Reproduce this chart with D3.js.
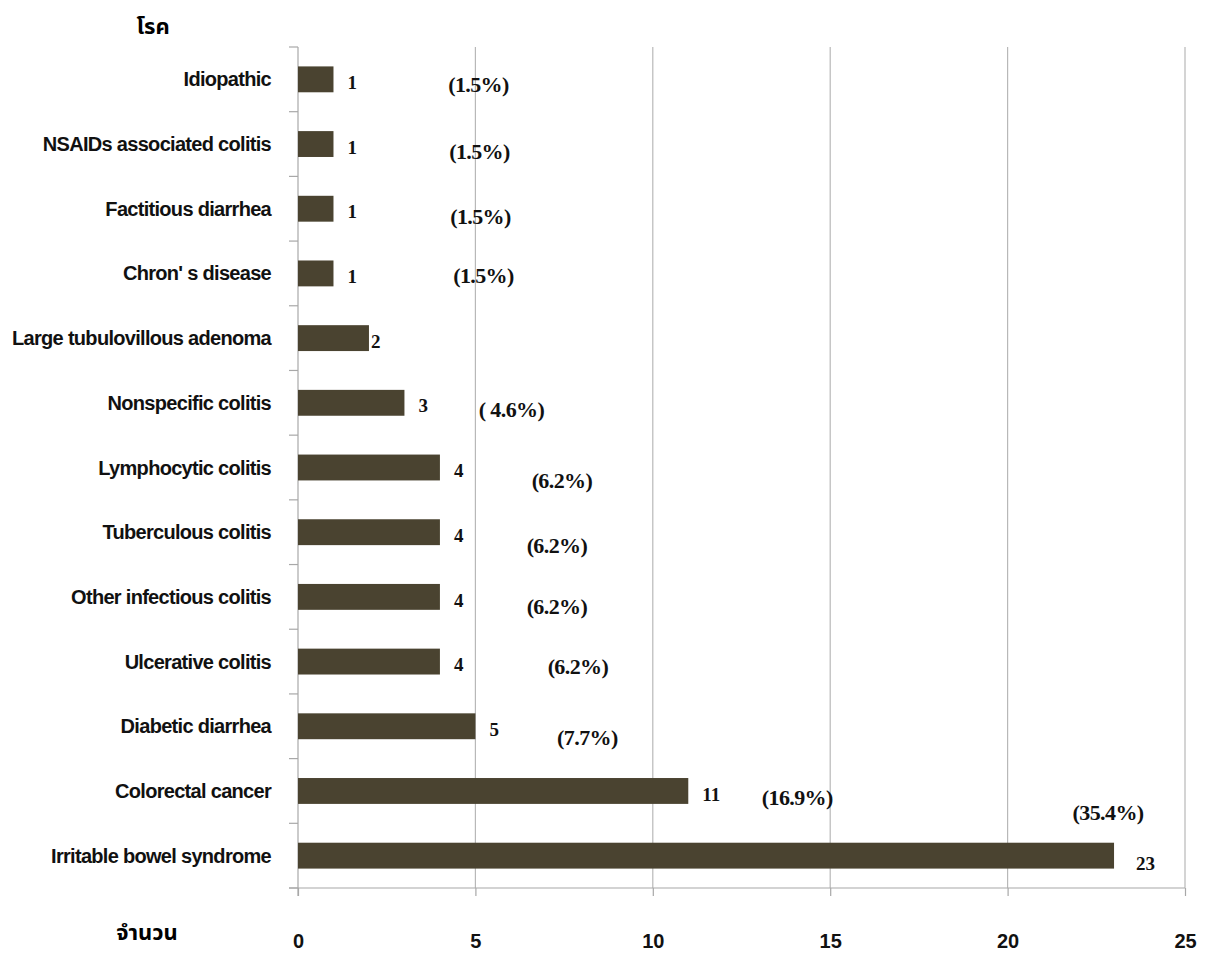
<!DOCTYPE html>
<html>
<head>
<meta charset="utf-8">
<script src="https://cdn.jsdelivr.net/npm/d3@7"></script>
<style>
  body { margin: 0; background: #fff; }
  .cat { font-family: "Liberation Sans", Arial, sans-serif; font-weight: bold; font-size: 20px; letter-spacing: -0.7px; }
  .val { font-family: "Liberation Serif", "Times New Roman", serif; font-weight: bold; font-size: 19px; }
  .pct { font-family: "Liberation Serif", "Times New Roman", serif; font-weight: bold; font-size: 22px; letter-spacing: -0.6px; }
  .thai { font-family: "Noto Sans Thai", "Noto Sans", sans-serif; font-weight: bold; font-size: 22px; }
  .x-axis text { font-family: "Liberation Sans", Arial, sans-serif; font-weight: bold; font-size: 20px; }
</style>
</head>
<body>
<script>
// categories, top to bottom
var diseases = ["Idiopathic", "NSAIDs associated colitis", "Factitious diarrhea", "Chron' s  disease",
  "Large tubulovillous adenoma", "Nonspecific colitis", "Lymphocytic colitis", "Tuberculous colitis",
  "Other infectious colitis", "Ulcerative colitis", "Diabetic diarrhea", "Colorectal cancer",
  "Irritable bowel syndrome"];
var counts = [1, 1, 1, 1, 2, 3, 4, 4, 4, 4, 5, 11, 23];
var percents = ["(1.5%)", "(1.5%)", "(1.5%)", "(1.5%)", "", "( 4.6%)", "(6.2%)", "(6.2%)",
  "(6.2%)", "(6.2%)", "(7.7%)", "(16.9%)", "(35.4%)"];
var xTicks = [0, 5, 10, 15, 20, 25];

// hand placed annotation nudges (pixels), as in the original slide
var valDx = [14, 14, 14, 14, 2, 14, 14, 14, 14, 14, 14, 14, 22];
var pctDx = [145, 146, 147, 150, 0, 107, 122, 117, 117, 138, 112, 109, -6];
var pctDy = [5, 7, 8, 2, 0, 6, 13, 13, 9, 5, 11, 6, -43];

var W = 1213, H = 953;
var plotLeft = 298, plotRight = 1185, plotTop = 47, plotBottom = 888;

var svg = d3.select("body").append("svg")
  .attr("width", W)
  .attr("height", H);

var x = d3.scaleLinear()
  .domain([0, 25])
  .range([plotLeft, plotRight]);

var y = d3.scaleBand()
  .domain(diseases)
  .range([plotTop, plotBottom])
  .paddingInner(0.6)
  .paddingOuter(0.3);

// gridlines
svg.append("g").selectAll("line")
  .data(xTicks.slice(1))
  .enter().append("line")
  .attr("x1", function(d) { return x(d); })
  .attr("x2", function(d) { return x(d); })
  .attr("y1", plotTop)
  .attr("y2", plotBottom)
  .attr("stroke", "#b8b8b8")
  .attr("stroke-width", 1.2);

// x axis
var xAxis = d3.axisBottom(x)
  .tickValues(xTicks)
  .tickSizeInner(8)
  .tickSizeOuter(0)
  .tickPadding(38);

var gx = svg.append("g")
  .attr("class", "axis x-axis")
  .attr("transform", "translate(0," + plotBottom + ")")
  .call(xAxis);
gx.select(".domain").attr("stroke", "#a8a8a8").attr("stroke-width", 1.2)
  .attr("d", "M" + (plotLeft - 9) + ",0H" + plotRight);
gx.selectAll(".tick line").attr("stroke", "#a8a8a8").attr("stroke-width", 1.2);
gx.selectAll(".tick text").attr("fill", "#111");

// y axis line and tick marks at band edges
svg.append("line")
  .attr("x1", plotLeft).attr("x2", plotLeft)
  .attr("y1", plotTop).attr("y2", plotBottom + 8)
  .attr("stroke", "#a8a8a8").attr("stroke-width", 1.2);

var edges = d3.range(diseases.length + 1).map(function(i) { return plotTop + i * y.step(); });
svg.append("g").selectAll("line")
  .data(edges)
  .enter().append("line")
  .attr("x1", plotLeft - 9).attr("x2", plotLeft)
  .attr("y1", function(d) { return d; })
  .attr("y2", function(d) { return d; })
  .attr("stroke", "#a8a8a8").attr("stroke-width", 1.2);

// category labels
svg.append("g").selectAll("text")
  .data(diseases)
  .enter().append("text")
  .attr("class", "cat")
  .attr("x", 271)
  .attr("y", function(d) { return y(d) + y.bandwidth() / 2; })
  .attr("dy", "0.35em")
  .attr("text-anchor", "end")
  .attr("fill", "#111")
  .text(function(d) { return d; });

// bars
svg.append("g").selectAll("rect")
  .data(diseases)
  .enter().append("rect")
  .attr("x", x(0))
  .attr("y", function(d) { return y(d); })
  .attr("width", function(d, i) { return x(counts[i]) - x(0); })
  .attr("height", y.bandwidth())
  .attr("fill", "#4a4330");

// value labels
svg.append("g").selectAll("text")
  .data(diseases)
  .enter().append("text")
  .attr("class", "val")
  .attr("x", function(d, i) { return x(counts[i]) + valDx[i]; })
  .attr("y", function(d, i) { return y(d) + y.bandwidth() / 2 + (i === 12 ? 8 : 3); })
  .attr("dy", "0.35em")
  .attr("fill", "#111")
  .text(function(d, i) { return counts[i]; });

// percentage labels
svg.append("g").selectAll("text")
  .data(diseases)
  .enter().append("text")
  .attr("class", "pct")
  .attr("x", function(d, i) { return x(counts[i]) + pctDx[i]; })
  .attr("y", function(d, i) { return y(d) + y.bandwidth() / 2 + pctDy[i]; })
  .attr("dy", "0.35em")
  .attr("text-anchor", "middle")
  .attr("fill", "#111")
  .text(function(d, i) { return percents[i]; });

// axis titles (Thai)
svg.append("text")
  .attr("class", "thai")
  .attr("x", 153).attr("y", 34)
  .attr("text-anchor", "middle")
  .text("โรค");

svg.append("text")
  .attr("class", "thai")
  .attr("x", 147).attr("y", 940)
  .attr("text-anchor", "middle")
  .text("จำนวน");
</script>
</body>
</html>
